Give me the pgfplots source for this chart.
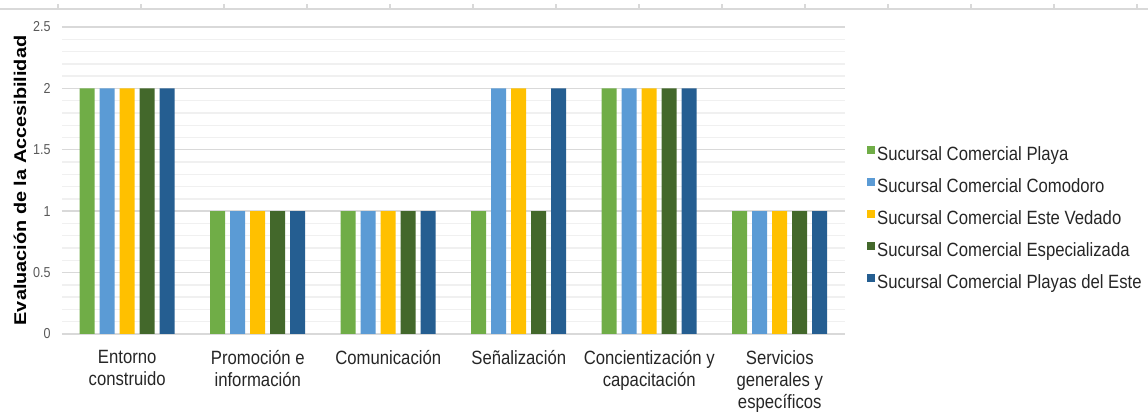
\documentclass[border=0pt]{standalone}
\usepackage{fontspec}
\setmainfont{Liberation Sans}[FakeStretch=0.87]
\newfontfamily\ylabfont{Liberation Sans}[FakeStretch=1.17]
\usepackage{pgfplots}
\pgfplotsset{compat=1.18}
\definecolor{cA}{HTML}{70AD47}
\definecolor{cB}{HTML}{5B9BD5}
\definecolor{cC}{HTML}{FFC000}
\definecolor{cD}{HTML}{43682B}
\definecolor{cE}{HTML}{255E91}
\definecolor{gridmaj}{HTML}{D9D9D9}
\definecolor{gridmin}{HTML}{F0F0F0}
\definecolor{ticktxt}{HTML}{595959}
\definecolor{txt}{HTML}{262626}
\pgfplotsset{sq legend/.style={legend image code/.code={\path[use as bounding box, fill=none, draw=none] (0pt,-2pt) rectangle (4pt,7pt);\fill[##1] (0pt,0.7pt) rectangle (4pt,4.7pt);}}}
\begin{document}
\begin{tikzpicture}
\path[use as bounding box] (-31pt,-40.5pt) rectangle (543pt,167pt);
\begin{axis}[
  at={(0,0)}, anchor=south west,
  scale only axis, width=391.5pt, height=153.5pt,
  ymin=0, ymax=2.5, xmin=-0.5, xmax=5.5,
  ybar=2.5pt, bar width=7.5pt,
  xtick={0,1,2,3,4,5},
  xticklabels={Entorno\\construido, Promoción e\\información, Comunicación, Señalización, Concientización y\\capacitación, Servicios\\generales y\\específicos},
  ytick={0,0.5,1,1.5,2,2.5},
  minor y tick num=4,
  ymajorgrids, yminorgrids,
  major grid style={draw=gridmaj, line width=0.7pt},
  minor grid style={draw=gridmin, line width=0.7pt},
  separate axis lines,
  axis x line*=bottom, axis y line*=left,
  x axis line style={draw=gridmaj, line width=0.8pt, -},
  y axis line style={draw=none},
  tick style={draw=none},
  major tick length=0pt, minor tick length=0pt,
  /pgf/number format/assume math mode=true,
  yticklabel style={font=\fontsize{7.2}{8}\selectfont, text=ticktxt, anchor=east, inner sep=0pt, xshift=-5.5pt},
  xticklabel style={font=\fontsize{9.6}{11}\selectfont, text=txt, align=center, anchor=north, inner sep=0pt, yshift=-8pt},
  every axis y label/.style={at={(rel axis cs:0,0.5)}, xshift=-21pt, rotate=90, anchor=center, font=\ylabfont\bfseries\fontsize{8.5}{10}\selectfont, text=black},
  ylabel={Evaluación de la Accesibilidad},
  legend cell align=left,
  legend style={at={(rel axis cs:1.027,0.628)}, anchor=north west, draw=none, fill=none, inner sep=0pt,
    font=\fontsize{9.6}{11}\selectfont, text=txt, row sep=4.5pt,
    nodes={text height=7pt, text depth=2pt, inner ysep=0pt, inner xsep=1.3pt}},
]
\addplot[fill=cA, draw=none, sq legend] coordinates {(0,2) (1,1) (2,1) (3,1) (4,2) (5,1)};
\addplot[fill=cB, draw=none, sq legend] coordinates {(0,2) (1,1) (2,1) (3,2) (4,2) (5,1)};
\addplot[fill=cC, draw=none, sq legend] coordinates {(0,2) (1,1) (2,1) (3,2) (4,2) (5,1)};
\addplot[fill=cD, draw=none, sq legend] coordinates {(0,2) (1,1) (2,1) (3,1) (4,2) (5,1)};
\addplot[fill=cE, draw=none, sq legend] coordinates {(0,2) (1,1) (2,1) (3,2) (4,2) (5,1)};
\legend{Sucursal Comercial Playa, Sucursal Comercial Comodoro, Sucursal Comercial Este Vedado, Sucursal Comercial Especializada, Sucursal Comercial Playas del Este}
\end{axis}
\draw[gridmaj, line width=0.8pt] (-31pt,162.5pt) -- (543pt,162.5pt);
\foreach \k in {0,...,13}{\draw[gridmaj, line width=0.6pt] ({(-2+41.5*\k)*1pt},162.5pt) -- ++(0,2.5pt);}
\end{tikzpicture}
\end{document}
